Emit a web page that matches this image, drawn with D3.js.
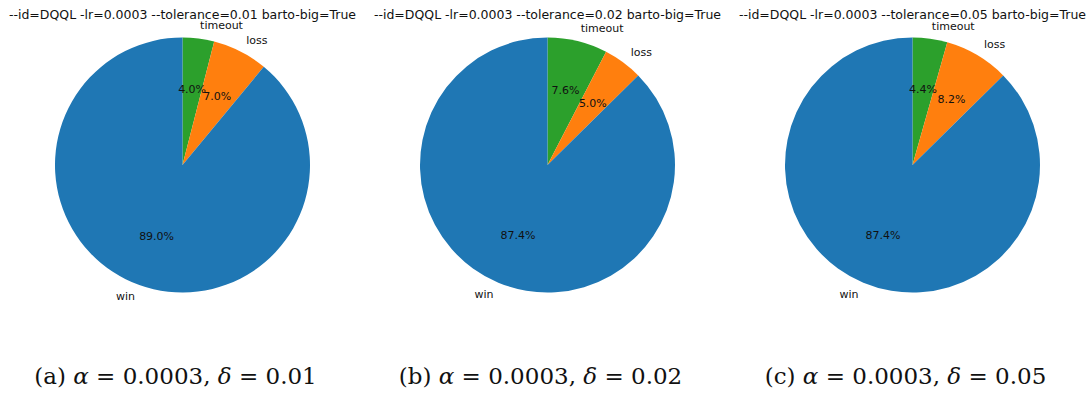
<!DOCTYPE html>
<html><head><meta charset="utf-8">
<script src="https://cdn.jsdelivr.net/npm/d3@7"></script>
<style>body{margin:0;background:#fff}svg{display:block}</style>
</head><body>
<svg id="chart" width="1091" height="394"></svg>
<script>
const categories = ["timeout", "loss", "win"];
const colors = ["#2ca02c", "#ff7f0e", "#1f77b4"];
const titles = [
  "--id=DQQL -lr=0.0003 --tolerance=0.01 barto-big=True",
  "--id=DQQL -lr=0.0003 --tolerance=0.02 barto-big=True",
  "--id=DQQL -lr=0.0003 --tolerance=0.05 barto-big=True"
];
const valuesA = [4.0, 7.0, 89.0];
const valuesB = [7.6, 5.0, 87.4];
const valuesC = [4.4, 8.2, 87.4];
const captionLetters = ["a", "b", "c"];
const captionAlpha = ["0.0003", "0.0003", "0.0003"];
const captionDelta = ["0.01", "0.02", "0.05"];

const panels = [valuesA, valuesB, valuesC];
const centersX = [182.5, 547.5, 912.5];
const cy = 165, R = 127.5;
const svg = d3.select("#chart");
const color = d3.scaleOrdinal().domain(categories).range(colors);
const pie = d3.pie().sort(null).startAngle(0).endAngle(2 * Math.PI);
const arc = d3.arc().innerRadius(0).outerRadius(R);

panels.forEach((vals, i) => {
  const g = svg.append("g").attr("transform", `translate(${centersX[i]},${cy})`);
  const arcs = pie(vals);
  const total = d3.sum(vals);
  g.selectAll("path").data(arcs).join("path")
    .attr("d", arc)
    .attr("fill", (d, j) => color(categories[j]));
  arcs.forEach((d, j) => {
    const mid = (d.startAngle + d.endAngle) / 2;
    const sx = Math.sin(mid), sy = -Math.cos(mid);
    const lx = 1.1 * R * sx, ly = 1.1 * R * sy;
    g.append("text")
      .attr("x", lx).attr("y", ly)
      .attr("text-anchor", lx >= 0 ? "start" : "end")
      .attr("dominant-baseline", "central")
      .attr("font-family", "DejaVu Sans")
      .attr("font-size", 11)
      .attr("fill", "#111")
      .text(categories[j]);
    g.append("text")
      .attr("x", 0.6 * R * sx).attr("y", 0.6 * R * sy)
      .attr("text-anchor", "middle")
      .attr("dominant-baseline", "central")
      .attr("font-family", "DejaVu Sans")
      .attr("font-size", 11)
      .attr("fill", "#111")
      .text((vals[j] / total * 100).toFixed(1) + "%");
  });
  svg.append("text")
    .attr("x", centersX[i]).attr("y", 18.5)
    .attr("text-anchor", "middle")
    .attr("font-family", "DejaVu Sans")
    .attr("font-size", 12.5)
    .attr("fill", "#111")
    .text(titles[i]);
  const cap = svg.append("text")
    .attr("x", centersX[i] - 7).attr("y", 384)
    .attr("text-anchor", "middle")
    .attr("font-family", "DejaVu Serif")
    .attr("font-size", 23)
    .attr("fill", "#111");
  cap.append("tspan").text(`(${captionLetters[i]}) `);
  cap.append("tspan").attr("font-style", "italic").text("α");
  cap.append("tspan").text(` = ${captionAlpha[i]}, `);
  cap.append("tspan").attr("font-style", "italic").text("δ");
  cap.append("tspan").text(` = ${captionDelta[i]}`);
});
</script>
</body></html>
